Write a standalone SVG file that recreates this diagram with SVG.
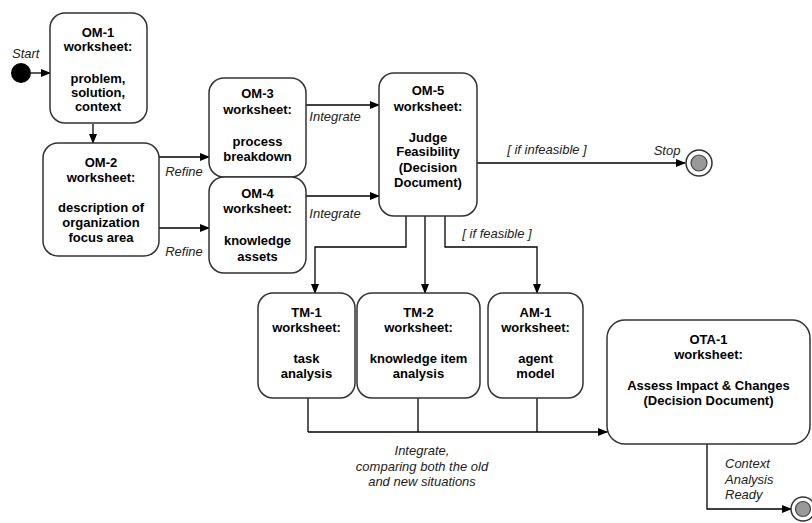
<svg xmlns="http://www.w3.org/2000/svg" width="812" height="523" viewBox="0 0 812 523">
<defs>
<marker id="ah" markerWidth="10" markerHeight="10" refX="9" refY="5" orient="auto" markerUnits="userSpaceOnUse">
<path d="M0,1 L10,5 L0,9 Z" fill="#000"/>
</marker>
<style>
.box{fill:#fff;stroke:#333;stroke-width:1.5}
.t{font-family:"Liberation Sans",Arial,sans-serif;font-size:13px;font-weight:bold;fill:#000;text-anchor:middle}
.l{font-family:"Liberation Sans",Arial,sans-serif;font-size:13px;font-style:italic;fill:#222}
.c{text-anchor:middle}
.e{fill:none;stroke:#000;stroke-width:1.3}
.ea{fill:none;stroke:#000;stroke-width:1.3;marker-end:url(#ah)}
</style>
</defs>
<rect width="812" height="523" fill="#fff"/>

<g id="connectors">
<path class="ea" d="M31,73 H50"/>
<path class="ea" d="M93,124 V143"/>
<path class="ea" d="M153,157 H209"/>
<path class="ea" d="M153,228 H209"/>
<path class="ea" d="M294,105 H379"/>
<path class="ea" d="M294,196 H379"/>
<path class="ea" d="M477,163 H685"/>
<path class="ea" d="M406,216 V247 H315 V293"/>
<path class="ea" d="M425,216 V293"/>
<path class="ea" d="M445,216 V247 H537 V293"/>
<path class="e" d="M308,398 V432"/>
<path class="e" d="M418,398 V432"/>
<path class="e" d="M537,398 V432"/>
<path class="ea" d="M308,432 H607"/>
<path class="ea" d="M707,444 V509 H791"/>
<text class="l" x="12" y="58">Start</text>
<text class="l c" x="184" y="176">Refine</text>
<text class="l c" x="184" y="256">Refine</text>
<text class="l c" x="335" y="121">Integrate</text>
<text class="l c" x="335" y="218">Integrate</text>
<text class="l c" x="547" y="154">[ if infeasible ]</text>
<text class="l c" x="667" y="155">Stop</text>
<text class="l c" x="497" y="238">[ if feasible ]</text>
<text class="l c" x="422" y="455">Integrate,</text>
<text class="l c" x="422" y="471">comparing both the old</text>
<text class="l c" x="422" y="486">and new situations</text>
<text class="l" x="725" y="468">Context</text>
<text class="l" x="725" y="484">Analysis</text>
<text class="l" x="725" y="499">Ready</text>
</g>

<g id="start"><circle cx="21" cy="73" r="10" fill="#000"/></g>
<g id="stop"><circle cx="699" cy="163" r="13" fill="#fff" stroke="#333" stroke-width="1.5"/><circle cx="699" cy="163" r="8" fill="#999" stroke="#444" stroke-width="1.2"/></g>
<g id="end"><circle cx="803" cy="509" r="12" fill="#fff" stroke="#333" stroke-width="1.5"/><circle cx="803" cy="509" r="7.5" fill="#999" stroke="#444" stroke-width="1.2"/></g>

<g id="om1">
<rect class="box" x="50" y="13" width="97" height="110" rx="15"/>
<text class="t" x="98" y="37">OM-1</text>
<text class="t" x="98" y="51">worksheet:</text>
<text class="t" x="98" y="83">problem,</text>
<text class="t" x="98" y="97">solution,</text>
<text class="t" x="98" y="111">context</text>
</g>
<g id="om2">
<rect class="box" x="43" y="143" width="116" height="113" rx="15"/>
<text class="t" x="101" y="167">OM-2</text>
<text class="t" x="101" y="182">worksheet:</text>
<text class="t" x="101" y="212">description of</text>
<text class="t" x="101" y="227">organization</text>
<text class="t" x="101" y="242">focus area</text>
</g>
<g id="om3">
<rect class="box" x="209" y="78" width="97" height="99" rx="15"/>
<text class="t" x="257.5" y="98">OM-3</text>
<text class="t" x="257.5" y="114">worksheet:</text>
<text class="t" x="257.5" y="146">process</text>
<text class="t" x="257.5" y="161">breakdown</text>
</g>
<g id="om4">
<rect class="box" x="209" y="177" width="97" height="96" rx="15"/>
<text class="t" x="257.5" y="198">OM-4</text>
<text class="t" x="257.5" y="213">worksheet:</text>
<text class="t" x="257.5" y="245">knowledge</text>
<text class="t" x="257.5" y="261">assets</text>
</g>
<g id="om5">
<rect class="box" x="379" y="73" width="98" height="143" rx="15"/>
<text class="t" x="428" y="95">OM-5</text>
<text class="t" x="428" y="111">worksheet:</text>
<text class="t" x="428" y="142">Judge</text>
<text class="t" x="428" y="156">Feasibility</text>
<text class="t" x="428" y="172">(Decision</text>
<text class="t" x="428" y="187">Document)</text>
</g>
<g id="tm1">
<rect class="box" x="258" y="293" width="97" height="105" rx="15"/>
<text class="t" x="306.5" y="317">TM-1</text>
<text class="t" x="306.5" y="332">worksheet:</text>
<text class="t" x="306.5" y="363">task</text>
<text class="t" x="306.5" y="378">analysis</text>
</g>
<g id="tm2">
<rect class="box" x="357" y="293" width="123" height="105" rx="15"/>
<text class="t" x="418.5" y="317">TM-2</text>
<text class="t" x="418.5" y="332">worksheet:</text>
<text class="t" x="418.5" y="363">knowledge item</text>
<text class="t" x="418.5" y="378">analysis</text>
</g>
<g id="am1">
<rect class="box" x="488" y="293" width="95" height="105" rx="15"/>
<text class="t" x="535.5" y="317">AM-1</text>
<text class="t" x="535.5" y="332">worksheet:</text>
<text class="t" x="535.5" y="363">agent</text>
<text class="t" x="535.5" y="378">model</text>
</g>
<g id="ota1">
<rect class="box" x="607" y="320" width="203" height="124" rx="18"/>
<text class="t" x="708.5" y="344">OTA-1</text>
<text class="t" x="708.5" y="359">worksheet:</text>
<text class="t" x="708.5" y="390">Assess Impact &amp; Changes</text>
<text class="t" x="708.5" y="405">(Decision Document)</text>
</g>
</svg>
